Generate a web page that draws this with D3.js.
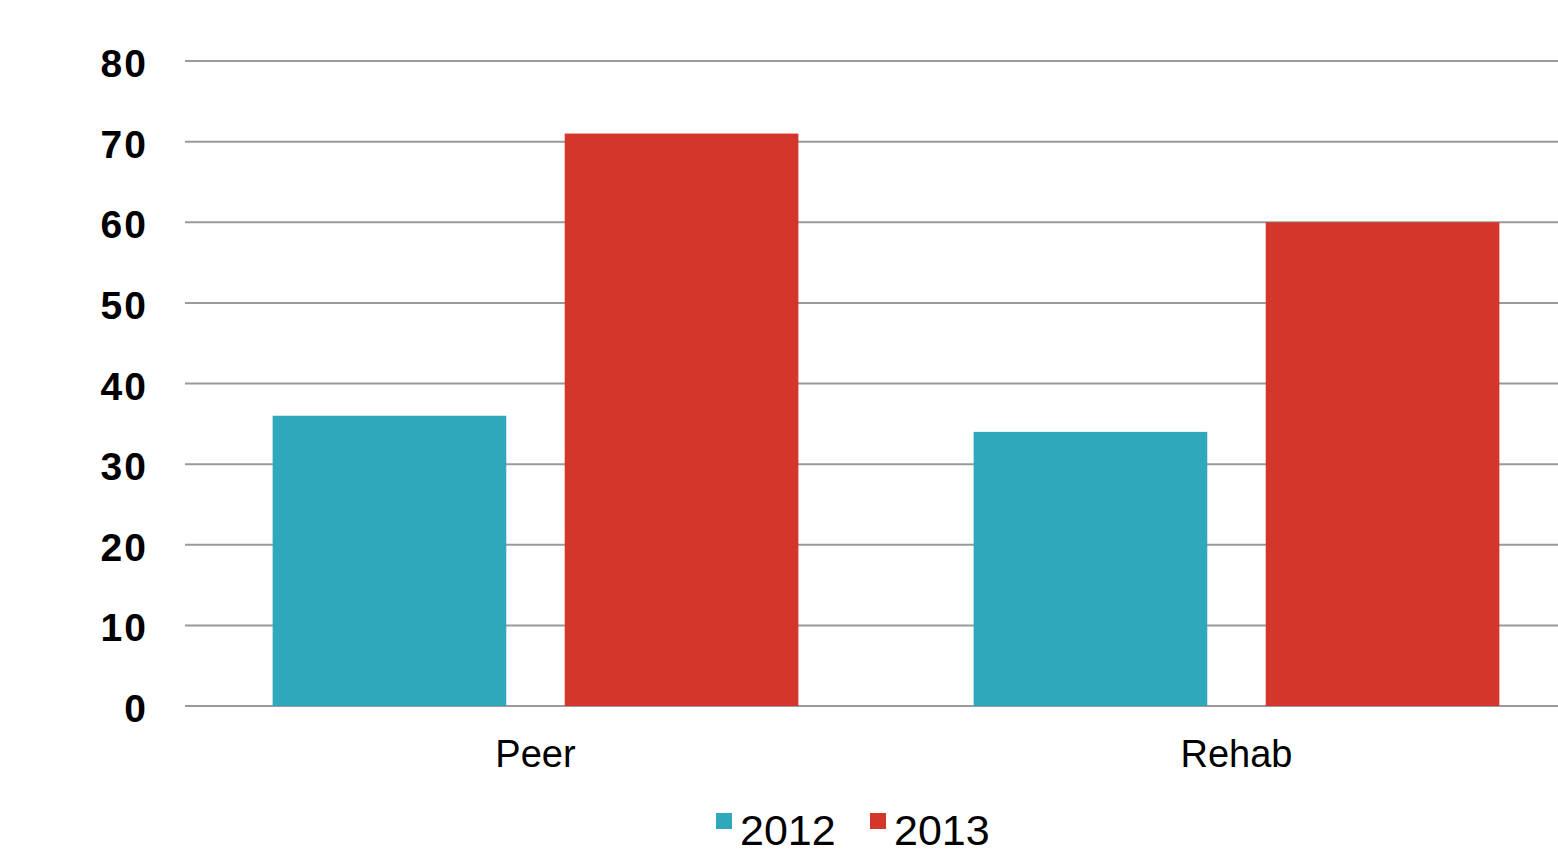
<!DOCTYPE html>
<html>
<head>
<meta charset="utf-8">
<script src="https://cdn.jsdelivr.net/npm/d3@7"></script>
<style>
  body { margin: 0; background: #fff; }
  svg { display: block; font-family: "Liberation Sans", Arial, sans-serif; }
</style>
</head>
<body>
<svg id="chart" width="1558" height="852"></svg>
<script>
// datos del grafico
const categorias = ["Peer", "Rehab"];
const series = ["2012", "2013"];
const valores2012 = [36, 34];
const valores2013 = [71, 60];
const ticksY = [0, 10, 20, 30, 40, 50, 60, 70, 80];
const colores = ["#2fa8bc", "#d5362b"];

const svg = d3.select("#chart");
const margen = { top: 61, left: 185, bottom: 146 };
const ancho = 1402; // el area sigue un poco fuera de la ventana
const alto = 852 - margen.top - margen.bottom;

const g = svg.append("g").attr("transform", `translate(${margen.left},${margen.top})`);

const x0 = d3.scaleBand().domain(categorias).range([0, ancho]).paddingOuter(0.125).paddingInner(0.25);
const x1 = d3.scaleBand().domain(series).range([0, x0.bandwidth()]).paddingInner(0.2);
const y = d3.scaleLinear().domain([0, 80]).range([alto, 0]);

// lineas de la grilla
g.selectAll(".grid").data(ticksY).enter().append("line")
  .attr("x1", 0).attr("x2", ancho)
  .attr("y1", d => y(d)).attr("y2", d => y(d))
  .attr("stroke", "#9a9a9a").attr("stroke-width", 2);

// etiquetas del eje y
g.selectAll(".ytick").data(ticksY).enter().append("text")
  .attr("x", -37).attr("y", d => y(d) + 16)
  .attr("text-anchor", "end")
  .attr("font-size", 39).attr("font-weight", "bold").attr("fill", "#000")
  .attr("letter-spacing", 2)
  .text(d => d);

const datos = categorias.map((c, i) => ({ cat: c, vals: [valores2012[i], valores2013[i]] }));

const grupo = g.selectAll(".grupo").data(datos).enter().append("g")
  .attr("transform", d => `translate(${x0(d.cat)},0)`);

grupo.selectAll("rect").data(d => d.vals.map((v, j) => ({ serie: series[j], v: v, j: j })))
  .enter().append("rect")
  .attr("x", d => x1(d.serie))
  .attr("width", x1.bandwidth())
  .attr("y", d => y(d.v))
  .attr("height", d => alto - y(d.v))
  .attr("fill", d => colores[d.j]);

// etiquetas de categorias
g.selectAll(".xlab").data(categorias).enter().append("text")
  .attr("x", d => x0(d) + x0.bandwidth() / 2)
  .attr("y", alto + 61)
  .attr("text-anchor", "middle")
  .attr("font-size", 38).attr("fill", "#000")
  .text(d => d);

// leyenda
const posLeyenda = [716, 870];
const leyenda = svg.selectAll(".ley").data(series).enter().append("g")
  .attr("transform", (d, i) => `translate(${posLeyenda[i]},813)`);
leyenda.append("rect").attr("width", 16).attr("height", 16).attr("fill", (d, i) => colores[i]);
leyenda.append("text").attr("x", 24).attr("y", 32)
  .attr("font-size", 43).attr("fill", "#000").text(d => d);
</script>
</body>
</html>
